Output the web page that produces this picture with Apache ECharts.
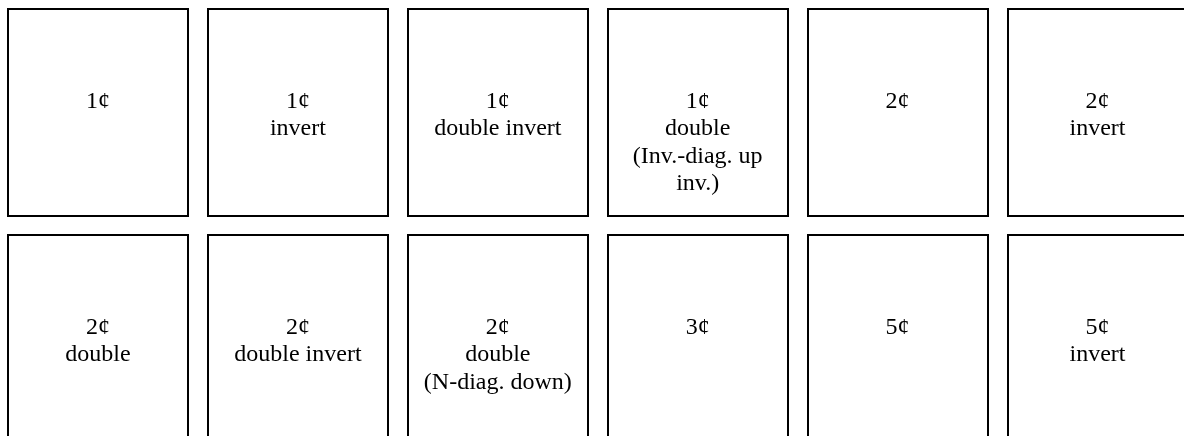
<!DOCTYPE html>
<html>
<head>
<meta charset="utf-8">
<script src="https://cdn.jsdelivr.net/npm/echarts@6/dist/echarts.min.js"></script>
<style>
html,body{margin:0;padding:0;background:#fff;}
#chart{width:1184px;height:436px;}
</style>
</head>
<body>
<div id="chart"></div>
<script>
// Cell labels, in reading order (6 per row)
const labels = [
  "1¢", "1¢\ninvert", "1¢\ndouble invert", "1¢\ndouble\n(Inv.-diag. up\ninv.)", "2¢", "2¢\ninvert",
  "2¢\ndouble", "2¢\ndouble invert", "2¢\ndouble\n(N-diag. down)", "3¢", "5¢", "5¢\ninvert"
];
const columnsPerRow = 6;

const cellData = labels.map((t, i) => [i % columnsPerRow, Math.floor(i / columnsPerRow), t]);

const PITCH_X = 199.9, PITCH_Y = 226;
const chart = echarts.init(document.getElementById('chart'), null, {renderer: 'canvas'});
chart.setOption({
  animation: false,
  backgroundColor: '#fff',
  grid: {left: 8, top: 9, right: 0, bottom: 0, containLabel: false},
  xAxis: {type: 'value', min: 0, max: 1176 / PITCH_X, show: false},
  yAxis: {type: 'value', min: 0, max: 427 / PITCH_Y, inverse: true, show: false},
  series: [{
    type: 'custom',
    clip: false,
    data: cellData,
    encode: {x: 0, y: 1},
    renderItem: function (params, api) {
      const c = api.value(0), r = api.value(1);
      const p0 = api.coord([c, r]);
      const p1 = api.coord([c + 180 / PITCH_X, r + 207 / PITCH_Y]);
      const cx = (p0[0] + p1[0]) / 2;
      return {
        type: 'group',
        children: [{
          type: 'rect',
          shape: {x: Math.round(p0[0]), y: Math.round(p0[1]), width: Math.round(p1[0] - p0[0]), height: Math.round(p1[1] - p0[1])},
          style: {fill: '#fff', stroke: '#000', lineWidth: 2}
        }, {
          type: 'text',
          x: cx,
          y: p0[1] + 79,
          style: {
            text: cellData[params.dataIndex][2],
            x: 0, y: 0,
            align: 'center',
            verticalAlign: 'top',
            font: "24px 'Liberation Serif', 'Times New Roman', Times, serif",
            lineHeight: 27.3,
            fill: '#000'
          }
        }]
      };
    }
  }]
});
</script>
</body>
</html>
